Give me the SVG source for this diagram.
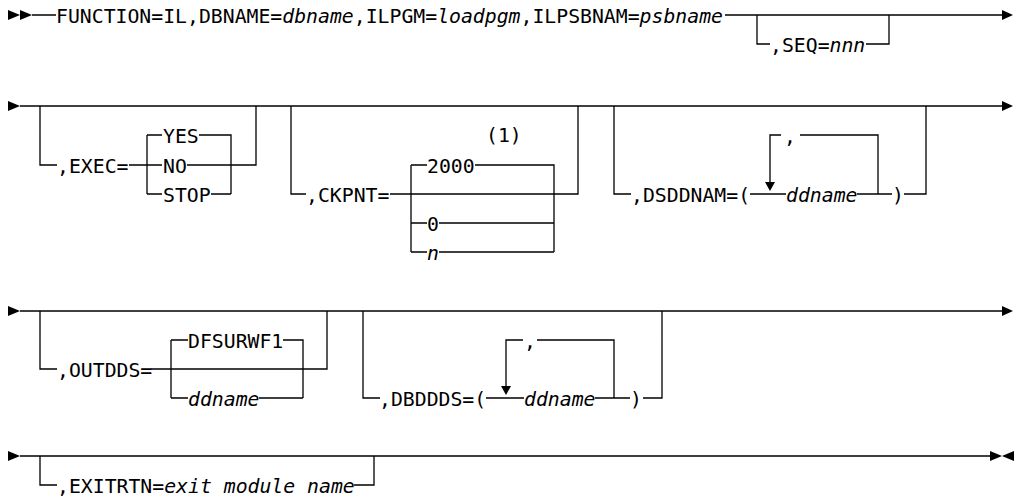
<svg xmlns="http://www.w3.org/2000/svg" width="1015" height="497" viewBox="0 0 1015 497">
<style>
text{font-family:"DejaVu Sans Mono","Liberation Mono",monospace;font-size:19.8px;fill:#000}
.i{font-style:italic}
.ln{fill:none;stroke:#000;stroke-width:1.3}
.ar{fill:#000;stroke:none}
</style>
<rect width="1015" height="497" fill="#fff"/>
<g id="connectors">
<!-- row 1 -->
<polygon class="ar" points="8,10 20,15 8,20"/>
<polygon class="ar" points="20,10 32,15 20,20"/>
<path class="ln" d="M32,15H56M725,15H1004"/>
<polygon class="ar" points="1002,10 1013,15 1002,20"/>
<path class="ln" d="M757,15V44H770M866,44H889V15"/>
<!-- row 2 -->
<polygon class="ar" points="8,101 20,106 8,111"/>
<path class="ln" d="M20,106H1004"/>
<polygon class="ar" points="1002,101 1013,106 1002,111"/>
<path class="ln" d="M40,106V165H57M129,165H162M147,135V194M147,135H162M199,135H231V194M147,194H162M211,194H231M187,165H256V106"/>
<path class="ln" d="M291,106V194H306M390,194H578V106M411,165V252M411,165H427M475,165H554V252M411,223H427M439,223H554M411,252H427M439,252H554"/>
<path class="ln" d="M614,106V194H631M750,194H786M857,194H892M904,194H926V106M770,186V135H781M800,135H878V194"/>
<polygon class="ar" points="765,182 775,182 770,191"/>
<!-- row 3 -->
<polygon class="ar" points="8,306 20,311 8,316"/>
<path class="ln" d="M20,311H1004"/>
<polygon class="ar" points="1002,306 1013,311 1002,316"/>
<path class="ln" d="M40,311V369H57M151,369H327V311M171,340V398M171,340H188M283,340H303V398M171,398H188M259,398H303"/>
<path class="ln" d="M363,311V398H380M486,398H524M595,398H630M643,398H662V311M506,390V340H523M537,340H614V398"/>
<polygon class="ar" points="501,386 511,386 506,395"/>
<!-- row 4 -->
<polygon class="ar" points="8,451 20,456 8,461"/>
<path class="ln" d="M20,456H991M40,456V485H57M354,485H374V456"/>
<polygon class="ar" points="990,451 1002,456 990,461"/>
<polygon class="ar" points="1014,451 1002,456 1014,461"/>
</g>
<g id="n-function"><text x="56" y="22.5">FUNCTION=IL,DBNAME=<tspan class="i">dbname</tspan>,ILPGM=<tspan class="i">loadpgm</tspan>,ILPSBNAM=<tspan class="i">psbname</tspan></text></g>
<g id="n-seq"><text x="770" y="51.5">,SEQ=<tspan class="i">nnn</tspan></text></g>
<g id="n-exec"><text x="57" y="172.5">,EXEC=</text></g>
<g id="n-yes"><text x="163" y="142.5">YES</text></g>
<g id="n-no"><text x="163" y="172.5">NO</text></g>
<g id="n-stop"><text x="163" y="201.5">STOP</text></g>
<g id="n-ckpnt"><text x="306" y="201.5">,CKPNT=</text></g>
<g id="n-note"><text x="486" y="142">(1)</text></g>
<g id="n-2000"><text x="427" y="172.5">2000</text></g>
<g id="n-0"><text x="427" y="230.5">0</text></g>
<g id="n-n"><text x="427" y="259.5" class="i">n</text></g>
<g id="n-dsddnam"><text x="631" y="201.5">,DSDDNAM=(</text></g>
<g id="n-dsddnam-sep"><text x="784" y="142.5">,</text></g>
<g id="n-dsddnam-dd"><text x="786" y="201.5" class="i">ddname</text></g>
<g id="n-dsddnam-close"><text x="892" y="201.5">)</text></g>
<g id="n-outdds"><text x="57" y="376.5">,OUTDDS=</text></g>
<g id="n-dfsurwf1"><text x="188" y="347.5">DFSURWF1</text></g>
<g id="n-outdds-dd"><text x="188" y="405.5" class="i">ddname</text></g>
<g id="n-dbddds"><text x="379" y="405.5">,DBDDDS=(</text></g>
<g id="n-dbddds-sep"><text x="524" y="347.5">,</text></g>
<g id="n-dbddds-dd"><text x="524" y="405.5" class="i">ddname</text></g>
<g id="n-dbddds-close"><text x="630" y="405.5">)</text></g>
<g id="n-exitrtn"><text x="57" y="492.5">,EXITRTN=<tspan class="i">exit module name</tspan></text></g>
</svg>
